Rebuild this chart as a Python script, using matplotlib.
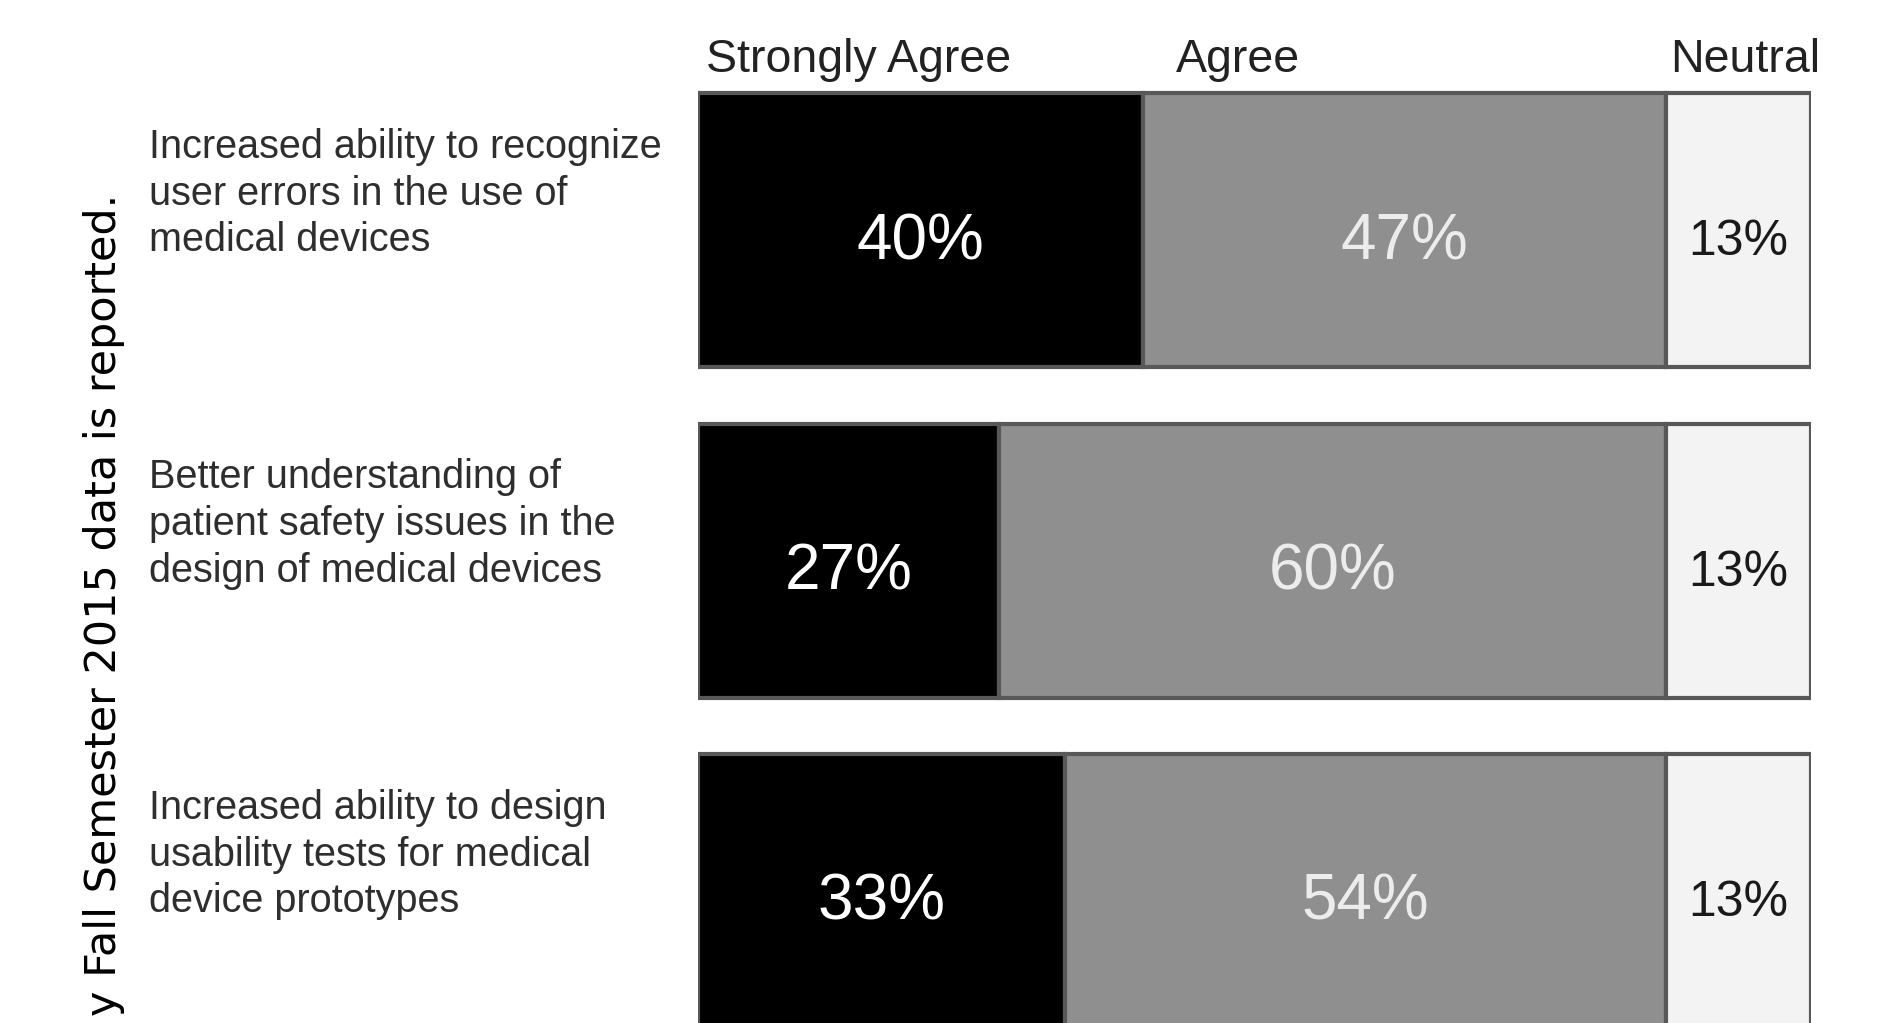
import matplotlib.pyplot as plt

# Survey data (percent of respondents)
statements = [
    "Increased ability to recognize\nuser errors in the use of\nmedical devices",
    "Better understanding of\npatient safety issues in the\ndesign of medical devices",
    "Increased ability to design\nusability tests for medical\ndevice prototypes",
]
categories = ["Strongly Agree", "Agree", "Neutral"]
strongly_agree = [40, 27, 33]
agree = [47, 60, 54]
neutral = [13, 13, 13]
caption = "y Fall Semester 2015 data is reported."

W, H = 1899, 1023
fig = plt.figure(figsize=(W / 100, H / 100), dpi=100)
plt.rcParams['font.family'] = ['Liberation Sans', 'DejaVu Sans']

# axes spans the bar region horizontally, full figure height vertically
left_px, right_px = 698, 1811
ax = fig.add_axes([left_px / W, 0, (right_px - left_px) / W, 1])
row_step, row0 = 330.5, 230  # px between rows, px centre of first row
ax.set_xlim(0, 100)
ax.set_ylim((H - row0) / row_step, -row0 / row_step)
ax.axis('off')

def y_of(px):
    return (px - row0) / row_step

rows = range(len(statements))
bar_h = 274 / row_step
series = [strongly_agree, agree, neutral]
colors = ['#000000', '#8f8f8f', '#f3f3f3']
text_colors = ['white', '#ececec', '#1a1a1a']
sizes = [46, 46, 36]
label_shift = 12 / row_step  # numbers sit a little below the bar centre

start = [0] * len(statements)
for vals, col, tcol, fs in zip(series, colors, text_colors, sizes):
    ax.barh(rows, vals, left=start, height=bar_h, color=col,
            edgecolor='#585858', linewidth=3)
    for i, v in enumerate(vals):
        ax.text(start[i] + v / 2, i + label_shift, f"{v}%", ha='center',
                va='center', fontsize=fs, color=tcol)
    start = [s + v for s, v in zip(start, vals)]

# column headers
for name, xh in zip(categories, [0.7, 42.9, 87.3]):
    ax.text(xh, y_of(60), name, ha='left', va='center', fontsize=33.5,
            color='#222222', clip_on=False)

# row labels
x_lab = (149 - left_px) / (right_px - left_px) * 100
for i, s in enumerate(statements):
    ax.text(x_lab, i - bar_h / 2 + y_of(128) - y_of(93), s, ha='left', va='top',
            fontsize=28.5, color='#2e2e2e', linespacing=1.29, clip_on=False)

# rotated caption, cut off at the bottom of the figure
fig.text(104 / W, 1 - 194 / H, caption, rotation=90, ha='center', va='top',
         fontsize=31, family='DejaVu Sans', color='black')

fig.savefig('out.png', dpi=100)
